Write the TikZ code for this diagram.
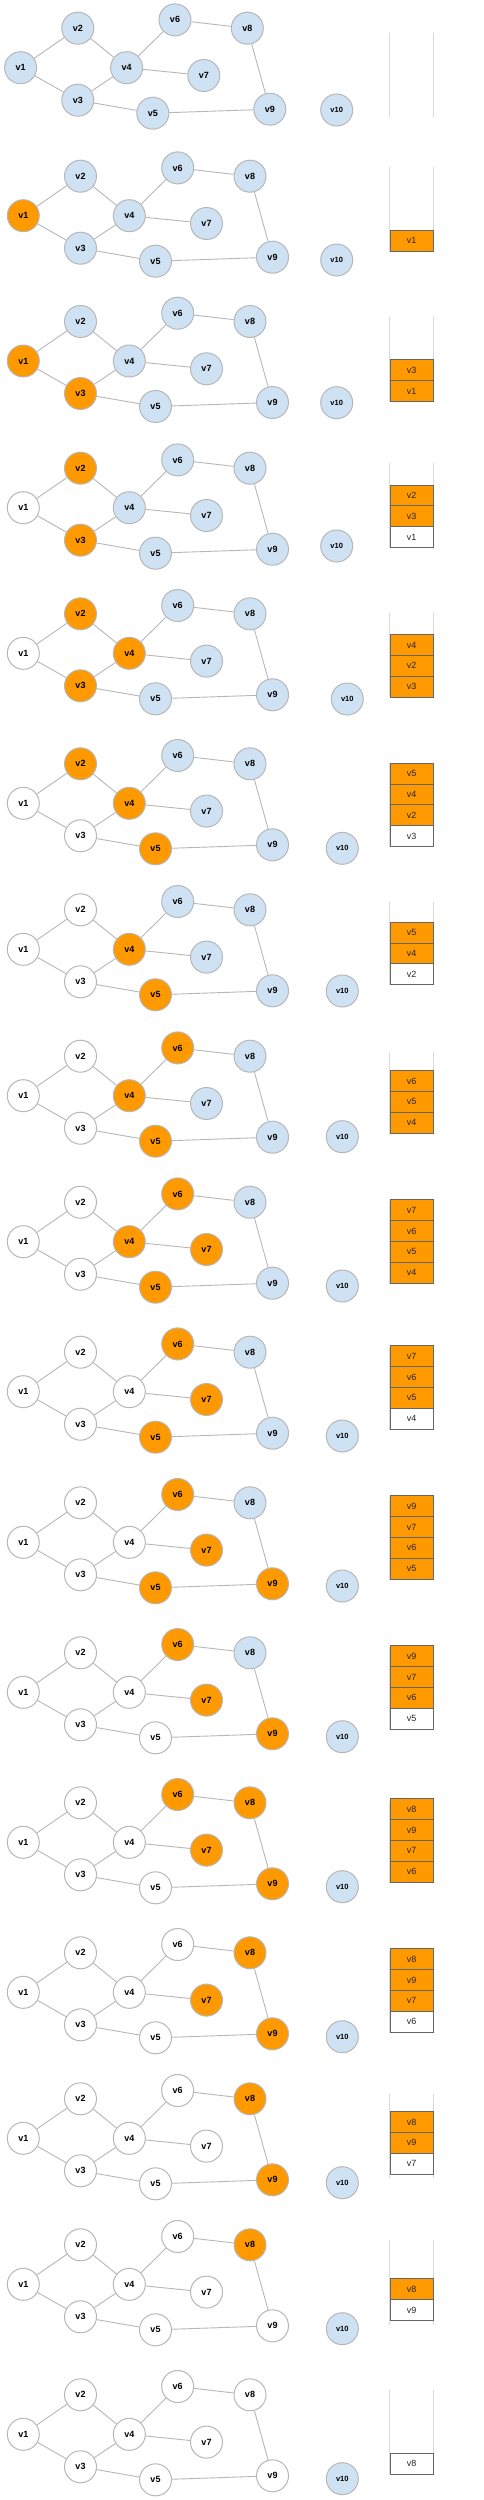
\documentclass[tikz,border=0pt]{standalone}
\usepackage{fontspec}
\setmainfont{Liberation Sans}
\definecolor{B}{HTML}{CFE2F3}
\definecolor{O}{HTML}{FF9900}
\definecolor{W}{HTML}{FFFFFF}
\definecolor{edgegray}{HTML}{B7B7B7}
\definecolor{boxline}{HTML}{666666}
\definecolor{railgray}{HTML}{D9D9D9}
\tikzset{
  gnode/.style={circle, draw=edgegray, line width=1pt, minimum size=32pt, inner sep=0pt,
    font=\bfseries\fontsize{9}{10}\selectfont},
  tnode/.style={gnode, fill=B, font=\bfseries\fontsize{7.5}{9}\selectfont},
  gedge/.style={draw=edgegray, line width=0.9pt},
  sbox/.style={draw=boxline, line width=0.8pt, minimum width=42.5pt, minimum height=20.8pt,
    inner sep=0pt, anchor=south west, font=\fontsize{9}{10}\selectfont, text=black!85},
  rail/.style={draw=railgray, line width=0.8pt},
}
\newcommand\states[9]{\def\colA{#1}\def\colB{#2}\def\colC{#3}\def\colD{#4}\def\colE{#5}%
  \def\colF{#6}\def\colG{#7}\def\colH{#8}\def\colI{#9}}
% #1 id, #2 dx, #3 y of v1, #4 v10 x, #5 v10 y
\newcommand\graphpanel[5]{%
  \begin{scope}[shift={(#2,#3)}]
    \node[gnode, fill=\colA] (#1a) at (23.3,0) {v1};
    \node[gnode, fill=\colB] (#1b) at (80.5,-39.5) {v2};
    \node[gnode, fill=\colC] (#1c) at (80.5,32.5) {v3};
    \node[gnode, fill=\colD] (#1d) at (129.3,0) {v4};
    \node[gnode, fill=\colE] (#1e) at (155.5,45.5) {v5};
    \node[gnode, fill=\colF] (#1f) at (177.7,-47.8) {v6};
    \node[gnode, fill=\colG] (#1g) at (206.5,7.8) {v7};
    \node[gnode, fill=\colH] (#1h) at (250,-39.5) {v8};
    \node[gnode, fill=\colI] (#1i) at (272.5,41.5) {v9};
  \end{scope}
  \node[tnode] (#1j) at (#4,#5) {v10};
  \draw[gedge] (#1a) -- (#1b);
  \draw[gedge] (#1a) -- (#1c);
  \draw[gedge] (#1b) -- (#1d);
  \draw[gedge] (#1c) -- (#1d);
  \draw[gedge] (#1c) -- (#1e);
  \draw[gedge] (#1d) -- (#1f);
  \draw[gedge] (#1d) -- (#1g);
  \draw[gedge] (#1f) -- (#1h);
  \draw[gedge] (#1h) -- (#1i);
  \draw[gedge] (#1e) -- (#1i);
}
% rails: #1 top, #2 bottom
\newcommand\rails[2]{%
  \draw[rail] (389.5,#1) -- (389.5,#2);
  \draw[rail] (433.5,#1) -- (433.5,#2);
}
% items: #1 id, #2 box bottom, #3 list colour/label from bottom up
\newcommand\items[3]{%
  \foreach \c/\t [count=\i] in {#3}
    \node[sbox, fill=\c] (#1s\i) at (390,{#2-(\i-1)*20.8}) {\t};
}
\begin{document}
\begin{tikzpicture}[x=1pt,y=-1pt]
\useasboundingbox (0,0) rectangle (484,2500);
\fill[white] (0,0) rectangle (484,2500);

% 1
\states{B}{B}{B}{B}{B}{B}{B}{B}{B}
\graphpanel{p1}{-2.7}{67.7}{336.7}{110}
\rails{32.7}{117.3}

% 2
\states{O}{B}{B}{B}{B}{B}{B}{B}{B}
\graphpanel{p2}{0}{215.7}{336.7}{260}
\rails{167.3}{251.7}
\items{p2}{251.7}{O/v1}

% 3
\states{O}{B}{O}{B}{B}{B}{B}{B}{B}
\graphpanel{p3}{0}{361}{336.7}{402.7}
\rails{317.3}{401.7}
\items{p3}{401.7}{O/v1,O/v3}

% 4
\states{W}{O}{O}{B}{B}{B}{B}{B}{B}
\graphpanel{p4}{0}{507.7}{336.7}{546}
\rails{463.3}{547.7}
\items{p4}{547.7}{W/v1,O/v3,O/v2}

% 5
\states{W}{O}{O}{O}{B}{B}{B}{B}{B}
\graphpanel{p5}{0}{653.3}{347.3}{699}
\rails{613.3}{697.3}
\items{p5}{697.3}{O/v3,O/v2,O/v4}

% 6
\states{W}{O}{W}{O}{O}{B}{B}{B}{B}
\graphpanel{p6}{0}{803.3}{342.3}{848.3}
\rails{763.3}{846.7}
\items{p6}{846.7}{W/v3,O/v2,O/v4,O/v5}

% 7
\states{W}{W}{W}{O}{O}{B}{B}{B}{B}
\graphpanel{p7}{0}{949.3}{342.3}{991}
\rails{901.7}{985}
\items{p7}{985}{W/v2,O/v4,O/v5}

% 8
\states{W}{W}{W}{O}{O}{O}{B}{B}{B}
\graphpanel{p8}{0}{1095.7}{342.3}{1136.7}
\rails{1051.7}{1135}
\items{p8}{1133.3}{O/v4,O/v5,O/v6}

% 9
\states{W}{W}{W}{O}{O}{O}{O}{B}{B}
\graphpanel{p9}{0}{1241.7}{342.3}{1286}
\rails{1200.7}{1284.3}
\items{p9}{1283.3}{O/v4,O/v5,O/v6,O/v7}

% 10
\states{W}{W}{W}{W}{O}{O}{O}{B}{B}
\graphpanel{p10}{0}{1391.7}{342.3}{1436}
\rails{1346.7}{1430.3}
\items{p10}{1429.3}{W/v4,O/v5,O/v6,O/v7}

% 11
\states{W}{W}{W}{W}{O}{O}{O}{B}{O}
\graphpanel{p11}{0}{1542.3}{342.3}{1586}
\rails{1496.7}{1580.3}
\items{p11}{1579.3}{O/v5,O/v6,O/v7,O/v9}

% 12
\states{W}{W}{W}{W}{W}{O}{O}{B}{O}
\graphpanel{p12}{0}{1692.3}{342.3}{1736.7}
\rails{1646.7}{1730.3}
\items{p12}{1729.3}{W/v5,O/v6,O/v7,O/v9}

% 13
\states{W}{W}{W}{W}{W}{O}{O}{O}{O}
\graphpanel{p13}{0}{1842.3}{342.3}{1886.7}
\rails{1800.7}{1883.3}
\items{p13}{1882.3}{O/v6,O/v7,O/v9,O/v8}

% 14
\states{W}{W}{W}{W}{W}{W}{O}{O}{O}
\graphpanel{p14}{0}{1992.3}{342.3}{2036.7}
\rails{1950.7}{2033.3}
\items{p14}{2032.3}{W/v6,O/v7,O/v9,O/v8}

% 15
\states{W}{W}{W}{W}{W}{W}{W}{O}{O}
\graphpanel{p15}{0}{2138.3}{342.3}{2182.7}
\rails{2094.3}{2178.3}
\items{p15}{2174.3}{W/v7,O/v9,O/v8}

% 16
\states{W}{W}{W}{W}{W}{W}{W}{O}{W}
\graphpanel{p16}{0}{2284.3}{342.3}{2328.7}
\rails{2240}{2325}
\items{p16}{2320.7}{W/v9,O/v8}

% 17
\states{W}{W}{W}{W}{W}{W}{W}{W}{W}
\graphpanel{p17}{0}{2434.3}{342.3}{2478.7}
\rails{2390}{2474.3}
\items{p17}{2474.3}{W/v8}
\end{tikzpicture}
\end{document}
